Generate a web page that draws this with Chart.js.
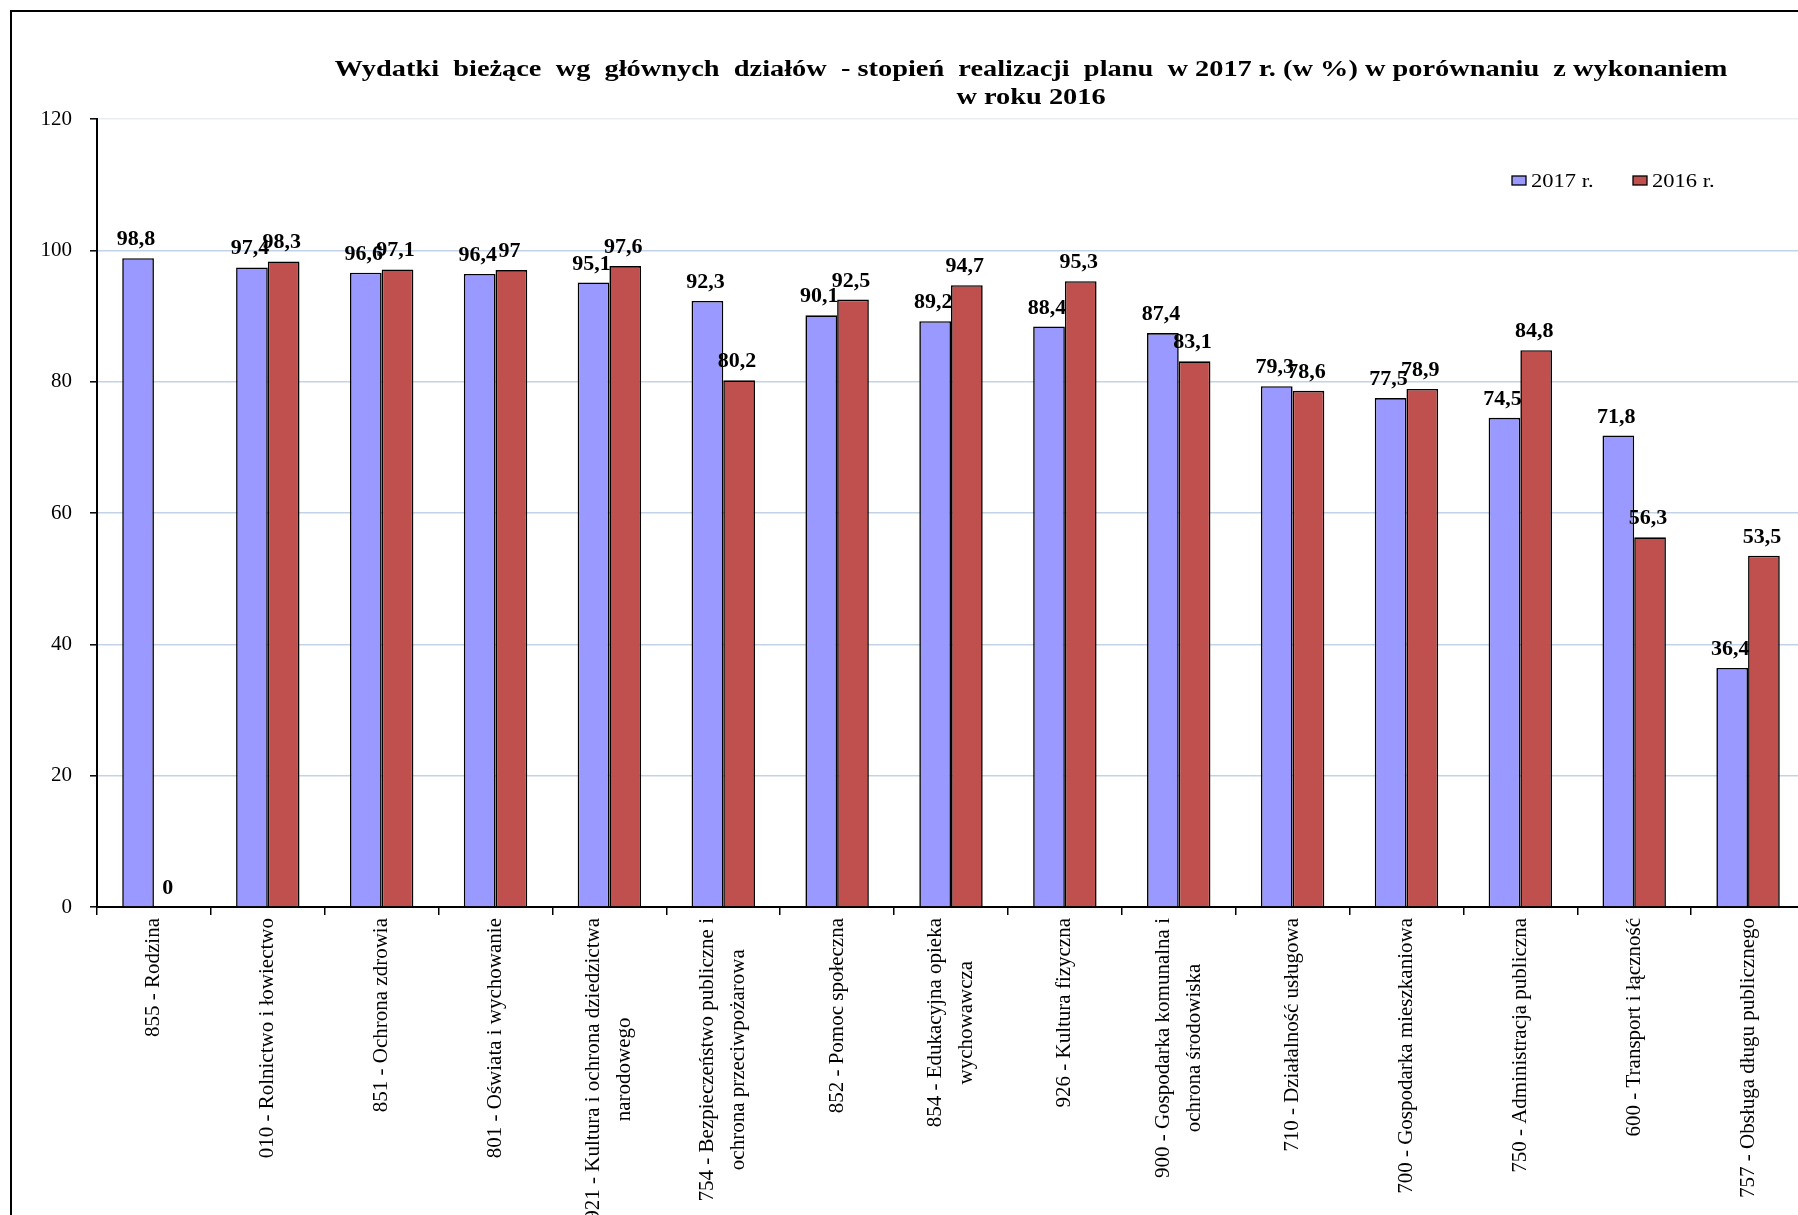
<!DOCTYPE html>
<html>
<head>
<meta charset="utf-8">
<script src="https://cdn.jsdelivr.net/npm/chart.js@4.4.1/dist/chart.umd.min.js"></script>
<style>
  html, body { margin: 0; padding: 0; background: #fff; overflow: hidden; }
  #wrap { width: 1798px; height: 1215px; overflow: hidden; position: relative; }
  canvas { display: block; }
</style>
</head>
<body>
<div id="wrap"><canvas id="chart" width="1830" height="1215"></canvas></div>
<script>
// --- data ---
const categories = [
  '855 - Rodzina',
  '010 - Rolnictwo i łowiectwo',
  '851 - Ochrona zdrowia',
  '801 - Oświata i wychowanie',
  ['921 - Kultura i ochrona dziedzictwa', 'narodowego'],
  ['754 - Bezpieczeństwo publiczne i', 'ochrona przeciwpożarowa'],
  '852 - Pomoc społeczna',
  ['854 - Edukacyjna opieka', 'wychowawcza'],
  '926 - Kultura fizyczna',
  ['900 - Gospodarka komunalna i', 'ochrona środowiska'],
  '710 - Działalność usługowa',
  '700 - Gospodarka mieszkaniowa',
  '750 - Administracja publiczna',
  '600 - Transport i łączność',
  '757 - Obsługa długu publicznego'
];
const values2017 = [98.8, 97.4, 96.6, 96.4, 95.1, 92.3, 90.1, 89.2, 88.4, 87.4, 79.3, 77.5, 74.5, 71.8, 36.4];
const values2016 = [0, 98.3, 97.1, 97, 97.6, 80.2, 92.5, 94.7, 95.3, 83.1, 78.6, 78.9, 84.8, 56.3, 53.5];
const seriesNames = ['2017 r.', '2016 r.'];
const yTicks = [0, 20, 40, 60, 80, 100, 120];

const titleLines = [
  'Wydatki  bieżące  wg  głównych  działów  - stopień  realizacji  planu  w 2017 r. (w %) w porównaniu  z wykonaniem',
  'w roku 2016'
];

const SERIF = "'Liberation Serif', 'Times New Roman', serif";
const fmt = v => String(v).replace('.', ',');

// title, legend, frame, category labels and value labels
const decor = {
  id: 'decor',
  beforeDraw(chart) {
    const ctx = chart.ctx;
    ctx.save();
    ctx.fillStyle = '#fff';
    ctx.fillRect(0, 0, chart.width, chart.height);
    ctx.restore();
  },
  afterDraw(chart) {
    const ctx = chart.ctx;
    const xs = chart.scales.x;
    ctx.save();

    // outer frame
    ctx.strokeStyle = '#000';
    ctx.lineWidth = 2;
    ctx.strokeRect(11, 11, chart.width + 100, chart.height + 100);

    // title (stretched horizontally like the original)
    ctx.fillStyle = '#000';
    ctx.font = 'bold 24px ' + SERIF;
    ctx.textAlign = 'center';
    ctx.textBaseline = 'alphabetic';
    const sx = 1393 / ctx.measureText(titleLines[0]).width;
    [76, 103.5].forEach((y, i) => {
      ctx.save();
      ctx.translate(1031, y);
      ctx.scale(sx, 1);
      ctx.fillText(titleLines[i], 0, 0);
      ctx.restore();
    });

    // legend
    const legX = [1512, 1633];
    ctx.font = '18px ' + SERIF;
    ctx.textAlign = 'left';
    chart.data.datasets.forEach((ds, i) => {
      ctx.fillStyle = ds.backgroundColor;
      ctx.fillRect(legX[i], 176, 14, 9);
      ctx.lineWidth = 1.3;
      ctx.strokeStyle = '#000';
      ctx.strokeRect(legX[i], 176, 14, 9);
      ctx.save();
      ctx.translate(legX[i] + 19, 187);
      ctx.scale(1.25, 1);
      ctx.fillStyle = '#000';
      ctx.fillText(ds.label, 0, 0);
      ctx.restore();
    });

    // value labels
    ctx.font = 'bold 20px ' + SERIF;
    ctx.textAlign = 'center';
    ctx.textBaseline = 'alphabetic';
    ctx.fillStyle = '#000';
    chart.data.datasets.forEach((ds, di) => {
      chart.getDatasetMeta(di).data.forEach((bar, i) => {
        ctx.save();
        ctx.translate(bar.x - 2, bar.y - 13);
        ctx.scale(1.1, 1);
        ctx.fillText(fmt(ds.data[i]), 0, 0);
        ctx.restore();
      });
    });

    // rotated category labels
    ctx.font = '21px ' + SERIF;
    ctx.textBaseline = 'middle';
    const lineH = 31;
    categories.forEach((lab, i) => {
      const lines = Array.isArray(lab) ? lab : [lab];
      const maxW = Math.max(...lines.map(l => ctx.measureText(l).width));
      ctx.save();
      ctx.translate(xs.getPixelForValue(i), 918);
      ctx.rotate(-Math.PI / 2);
      lines.forEach((l, k) => {
        ctx.fillText(l, -maxW / 2, (k - (lines.length - 1) / 2) * lineH);
      });
      ctx.restore();
    });

    ctx.restore();
  }
};

new Chart(document.getElementById('chart'), {
  type: 'bar',
  data: {
    labels: categories,
    datasets: [
      {
        label: seriesNames[0],
        data: values2017,
        backgroundColor: '#9999FF',
        borderColor: '#000',
        borderWidth: 1.6
      },
      {
        label: seriesNames[1],
        data: values2016,
        backgroundColor: '#C0504D',
        borderColor: '#000',
        borderWidth: 1.6
      }
    ]
  },
  options: {
    responsive: false,
    animation: false,
    events: [],
    layout: { padding: { top: 119, right: 25, left: 0, bottom: 0 } },
    categoryPercentage: 0.557,
    barPercentage: 1.0,
    plugins: {
      legend: { display: false },
      title: { display: false },
      tooltip: { enabled: false }
    },
    scales: {
      x: {
        offset: true,
        ticks: { display: false },
        grid: {
          offset: true,
          drawOnChartArea: false,
          drawTicks: true,
          tickLength: 8,
          color: '#000',
          lineWidth: 1.5
        },
        border: { display: true, color: '#000', width: 2 },
        afterFit: s => { s.height = 308; }
      },
      y: {
        min: 0,
        max: 120,
        afterBuildTicks: s => { s.ticks = yTicks.map(v => ({ value: v })); },
        ticks: {
          color: '#000',
          font: { family: SERIF, size: 21 },
          padding: 18
        },
        grid: {
          color: c => c.tick.value === 120 ? '#e9edf2' : (c.tick.value === 0 ? 'rgba(0,0,0,0)' : '#c3d3e6'),
          lineWidth: 1.6,
          tickLength: 7,
          tickColor: '#000',
          tickWidth: 1.5
        },
        border: { display: true, color: '#000', width: 2 },
        afterFit: s => { s.width = 97; }
      }
    }
  },
  plugins: [decor]
});
</script>
</body>
</html>
